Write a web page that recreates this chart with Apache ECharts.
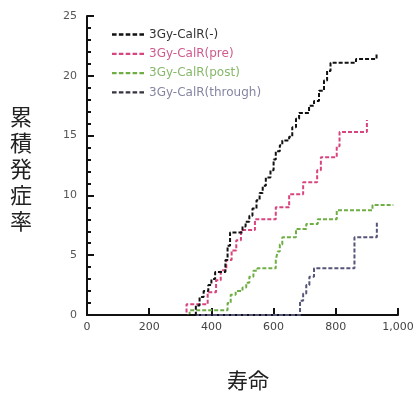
<!DOCTYPE html>
<html>
<head>
<meta charset="utf-8">
<script src="https://cdn.jsdelivr.net/npm/echarts@6/dist/echarts.min.js"></script>
<style>
  html, body { margin: 0; padding: 0; background: #fff; }
  #main { width: 417px; height: 396px; }
</style>
</head>
<body>
<div id="main"></div>
<script>
// step curves: day of event, cumulative incidence after it
var minusDays = [0, 350, 362, 375, 390, 400, 412, 445, 452, 460, 500, 510, 522, 532, 545, 555, 565, 575, 590, 600, 607, 620, 628, 650, 660, 672, 682, 714, 730, 746, 762, 772, 783, 865, 931];
var minusRate = [0, 0.8, 1.5, 2.0, 2.5, 3.0, 3.6, 4.6, 5.8, 6.9, 7.4, 7.8, 8.3, 8.9, 9.6, 10.2, 10.8, 11.5, 12.1, 13.0, 13.7, 14.2, 14.6, 14.9, 15.7, 16.4, 16.9, 17.5, 17.9, 18.75, 19.6, 20.4, 21.1, 21.4, 21.9];

var preDays = [0, 320, 388, 415, 430, 448, 465, 480, 495, 540, 607, 650, 695, 740, 752, 803, 812, 900];
var preRate = [0, 0.9, 1.9, 2.9, 3.75, 4.6, 5.4, 6.25, 7.1, 8.0, 9.0, 10.1, 11.1, 12.1, 13.2, 14.1, 15.3, 16.3];

var postDays = [0, 330, 452, 462, 478, 500, 512, 522, 535, 548, 607, 613, 620, 628, 672, 705, 742, 803, 918, 985];
var postRate = [0, 0.4, 1.0, 1.7, 2.0, 2.3, 2.7, 3.2, 3.7, 3.9, 4.6, 5.3, 5.9, 6.5, 7.2, 7.6, 8.0, 8.75, 9.2, 9.2];

var throughDays = [0, 685, 695, 705, 715, 730, 860, 932];
var throughRate = [0, 1.2, 1.8, 2.5, 3.2, 3.9, 6.5, 7.8];

var names = ['3Gy-CalR(-)', '3Gy-CalR(pre)', '3Gy-CalR(post)', '3Gy-CalR(through)'];
var lineColors = ['#111111', '#d8457e', '#6fae45', '#55557a'];
var iconColors = ['#111111', '#d8457e', '#6fae45', '#333340'];
var textColors = ['#333333', '#cf5a8e', '#86b86a', '#8585a3'];

// five short dashes for the legend key
var dashIcon = 'path://M0,0H4V2H0Z M6,0H10V2H6Z M12,0H16V2H12Z M18,0H22V2H18Z M24,0H28V2H24Z';

function pairs(xs, ys) {
    var out = [];
    for (var i = 0; i < xs.length; i++) {
        out.push([xs[i], ys[i]]);
    }
    return out;
}

var curves = [
    pairs(minusDays, minusRate),
    pairs(preDays, preRate),
    pairs(postDays, postRate),
    pairs(throughDays, throughRate)
];

var series = [];
var legendData = [];
for (var k = 0; k < names.length; k++) {
    series.push({
        name: names[k],
        type: 'line',
        step: 'end',
        symbol: 'none',
        data: curves[k],
        lineStyle: { color: lineColors[k], width: 2, type: [4, 2] },
        itemStyle: { color: lineColors[k] },
        z: 4 - k
    });
    legendData.push({
        name: names[k],
        icon: dashIcon,
        itemStyle: { color: iconColors[k], borderWidth: 0 },
        textStyle: { color: textColors[k] }
    });
}

var myChart = echarts.init(document.getElementById('main'));
var option = {
    animation: false,
    backgroundColor: '#fff',
    grid: { left: 87, right: 19, top: 16, bottom: 81 },
    legend: {
        orient: 'vertical',
        left: 107,
        top: 22,
        itemGap: 4.3,
        itemWidth: 32,
        itemHeight: 3,
        data: legendData,
        textStyle: { fontFamily: 'DejaVu Sans', fontSize: 12, lineHeight: 15 }
    },
    xAxis: {
        type: 'value',
        min: 0,
        max: 1000,
        interval: 200,
        axisLine: { lineStyle: { color: '#111', width: 2 } },
        axisTick: { inside: true, length: 7, lineStyle: { color: '#111', width: 2 } },
        axisLabel: { color: '#444', fontSize: 11, margin: 7, fontFamily: 'DejaVu Sans' },
        splitLine: { show: false }
    },
    yAxis: {
        type: 'value',
        min: 0,
        max: 25,
        interval: 5,
        axisLine: { show: true, lineStyle: { color: '#111', width: 2 } },
        axisTick: { show: true, inside: true, length: 7, lineStyle: { color: '#111', width: 2 } },
        minorTick: { show: true, splitNumber: 5, length: 4, lineStyle: { color: '#111', width: 2 } },
        axisLabel: { color: '#555', fontSize: 11, margin: 10, fontFamily: 'DejaVu Sans' },
        splitLine: { show: false }
    },
    graphic: [
        {
            type: 'text',
            left: 10,
            top: 104,
            style: {
                text: '累\n積\n発\n症\n率',
                font: '22px "Noto Sans CJK JP"',
                lineHeight: 26,
                fill: '#222'
            }
        },
        {
            type: 'text',
            left: 227,
            top: 370,
            style: {
                text: '寿命',
                font: '21px "Noto Sans CJK JP"',
                fill: '#222'
            }
        }
    ],
    series: series
};
myChart.setOption(option);
</script>
</body>
</html>
